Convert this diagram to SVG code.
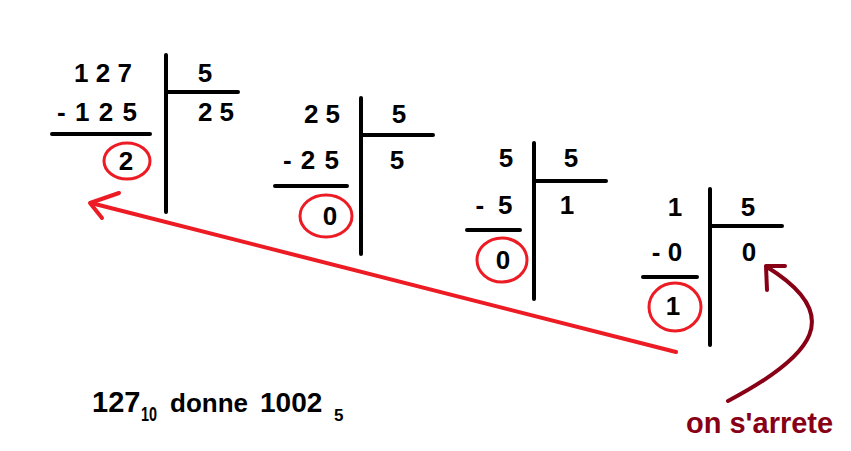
<svg xmlns="http://www.w3.org/2000/svg" width="851" height="451" viewBox="0 0 851 451">
<style>
text{font-family:"Liberation Sans",Arial,sans-serif;font-weight:bold;fill:#000}
.d{font-size:26px;text-anchor:middle}
.ln{stroke:#000;stroke-width:4;fill:none;stroke-linecap:round}
.c{stroke:#ED1C24;stroke-width:3;fill:none}
.ra{stroke:#ED1C24;stroke-width:4;fill:none;stroke-linecap:round;stroke-linejoin:round}
.da{stroke:#880015;stroke-width:4;fill:none;stroke-linecap:round;stroke-linejoin:round}
</style>
<rect width="851" height="451" fill="#fff"/>
<g id="div1">
<line class="ln" x1="166" y1="55" x2="166" y2="212"/>
<line class="ln" x1="166" y1="92" x2="238" y2="92"/>
<line class="ln" x1="52" y1="134" x2="150" y2="134"/>
<text class="d" x="103" y="82">1 2 7</text>
<text class="d" x="205" y="82">5</text>
<text class="d" x="97" y="121" textLength="80" lengthAdjust="spacing">- 1 2 5</text>
<text class="d" x="216" y="121">2 5</text>
<ellipse class="c" cx="127" cy="161" rx="23" ry="18"/>
<text class="d" x="126" y="170">2</text>
</g>
<g id="div2">
<line class="ln" x1="361" y1="98" x2="361" y2="254"/>
<line class="ln" x1="361" y1="135" x2="433" y2="135"/>
<line class="ln" x1="275" y1="186" x2="347" y2="186"/>
<text class="d" x="322" y="123">2 5</text>
<text class="d" x="399" y="123">5</text>
<text class="d" x="311" y="169" textLength="56" lengthAdjust="spacing">- 2 5</text>
<text class="d" x="397" y="169">5</text>
<ellipse class="c" cx="326" cy="216" rx="26" ry="21"/>
<text class="d" x="330" y="225">0</text>
</g>
<g id="div3">
<line class="ln" x1="534" y1="143" x2="534" y2="299"/>
<line class="ln" x1="534" y1="181" x2="606" y2="181"/>
<line class="ln" x1="467" y1="230" x2="520" y2="230"/>
<text class="d" x="506" y="167">5</text>
<text class="d" x="571" y="167">5</text>
<text class="d" x="494" y="214" textLength="37" lengthAdjust="spacing">- 5</text>
<text class="d" x="567" y="214">1</text>
<ellipse class="c" cx="502" cy="260" rx="25" ry="22"/>
<text class="d" x="503" y="269">0</text>
</g>
<g id="div4">
<line class="ln" x1="710" y1="189" x2="710" y2="345"/>
<line class="ln" x1="710" y1="226" x2="782" y2="226"/>
<line class="ln" x1="643" y1="277" x2="697" y2="277"/>
<text class="d" x="675" y="216">1</text>
<text class="d" x="748" y="216">5</text>
<text class="d" x="667" y="261">- 0</text>
<text class="d" x="749" y="261">0</text>
<ellipse class="c" cx="675" cy="307" rx="26" ry="24"/>
<text class="d" x="673" y="315">1</text>
</g>
<g id="connectors">
<line class="ra" x1="676" y1="352" x2="91" y2="203"/>
<polyline class="ra" points="119,193 90,203 102,218"/>
<path class="da" d="M728,401 C815,355 845,315 767,267"/>
<polyline class="da" points="767,290 766,266 785,266"/>
</g>
<g id="result">
<text x="92" y="412" style="font-size:29px">127</text>
<text x="141" y="421" style="font-size:21px" textLength="16" lengthAdjust="spacingAndGlyphs">10</text>
<text x="170" y="412" style="font-size:26px">donne</text>
<text x="260" y="412" style="font-size:28px">1002</text>
<text x="334" y="421" style="font-size:17px">5</text>
</g>
<text id="label" x="686" y="433" style="font-size:29px;fill:#880015">on s'arrete</text>
</svg>
